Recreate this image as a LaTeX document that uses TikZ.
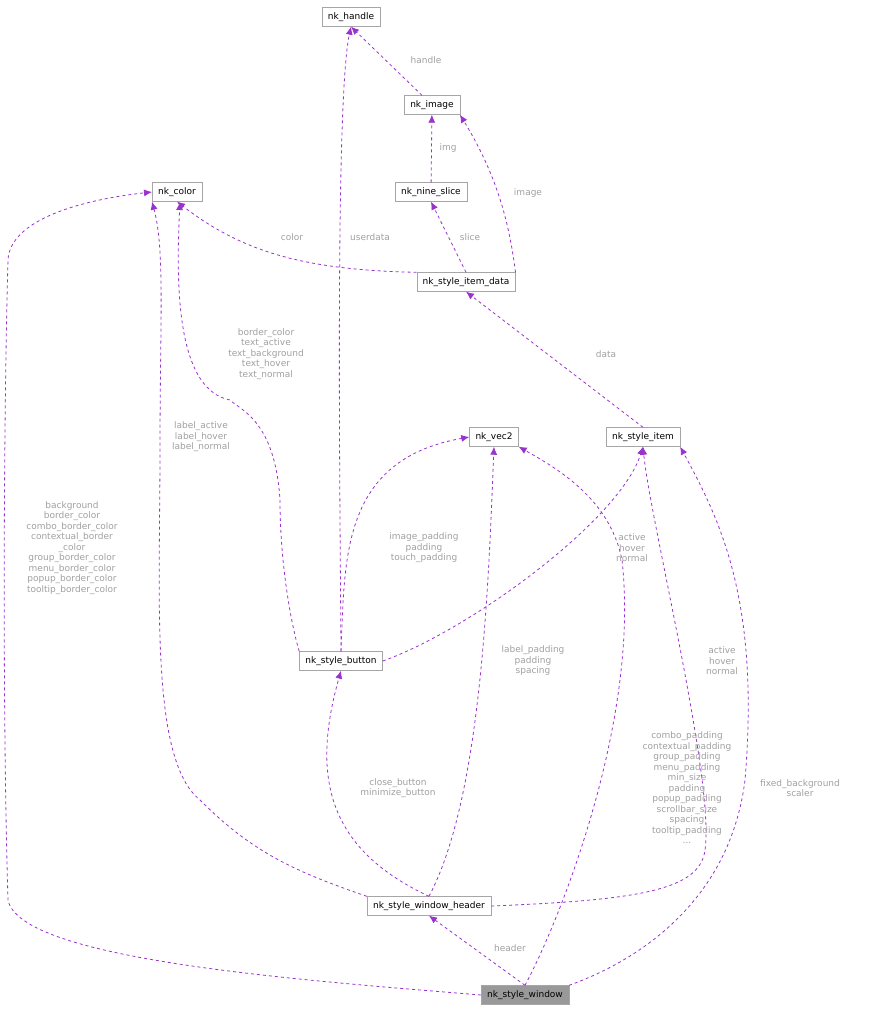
\documentclass[tikz,border=0pt]{standalone}
\usepackage{fontspec}
\setmainfont{DejaVu Sans}
\usetikzlibrary{arrows.meta}
\definecolor{edge}{HTML}{9A32CD}
\definecolor{lbl}{HTML}{A0A0A0}
\tikzset{
  box/.style={draw=black!35, fill=white, minimum height=19pt, inner xsep=6pt, font=\fontsize{9}{10}\selectfont, anchor=center},
  e/.style={draw=edge, dashed, -{Latex[length=8pt,width=7pt]}, thick},
  lab/.style={text=lbl, font=\fontsize{9}{10.5}\selectfont, align=center}
}
\begin{document}
\begin{tikzpicture}[x=1pt,y=-1pt]
\useasboundingbox (0,0) rectangle (877,1012);
\node[box] (handle) at (351,17) {nk\_handle};
\node[box] (image) at (432,105) {nk\_image};
\node[box] (nine) at (431,192) {nk\_nine\_slice};
\node[box] (color) at (177,192) {nk\_color};
\node[box] (sid) at (466,282) {nk\_style\_item\_data};
\node[box] (vec) at (494,437) {nk\_vec2};
\node[box] (item) at (643,437) {nk\_style\_item};
\node[box] (button) at (341,661) {nk\_style\_button};
\node[box] (header) at (429,906) {nk\_style\_window\_header};
\node[box, fill=black!40] (win) at (525,995) {nk\_style\_window};

\draw[e] (image) -- (handle.south);
\draw[e] (nine) -- (image);
\draw[e] (sid.north) -- (nine.south);
\draw[e] (sid.north east) .. controls (510,230) and (500,180) .. (image.south east);
\draw[e] (sid.north west) .. controls (300,270) and (240,250) .. (color.south);
\draw[e] (item.north) -- (sid.south);
\draw[e] (button.north) .. controls (340,500) and (335,100) .. (handle.south);
\draw[e] (button.north west) .. controls (290,620) and (280,560) .. (280,500) .. controls (275,420) and (240,410) .. (230,400) .. controls (180,390) and (175,300) .. (180,202);
\draw[e] (button.north) .. controls (345,560) and (340,460) .. (vec.west);
\draw[e] (button.east) .. controls (470,630) and (620,520) .. (item.south);
\draw[e] (header.north west) .. controls (290,870) and (250,850) .. (200,800) .. controls (150,760) and (160,600) .. (160,450) .. controls (160,320) and (165,250) .. (color.south west);
\draw[e] (header.north) .. controls (330,850) and (310,780) .. (button.south);
\draw[e] (header.north) .. controls (480,800) and (488,600) .. (vec.south);
\draw[e] (win.north) -- (header.south);
\draw[e] (win.north) .. controls (560,920) and (640,720) .. (622,560) .. controls (610,500) and (560,470) .. (vec.south east);
\draw[e] (header.east) .. controls (640,900) and (700,890) .. (705,850) .. controls (715,780) and (650,520) .. (item.south);
\draw[e] (win.north east) .. controls (640,960) and (730,900) .. (745,780) .. controls (760,600) and (720,520) .. (item.south east);
\draw[e] (win.west) .. controls (300,980) and (20,960) .. (8,900) .. controls (2,700) and (4,400) .. (8,260) .. controls (10,220) and (80,200) .. (color.west);

\node[lab] at (426,60) {handle};
\node[lab] at (448,148) {img};
\node[lab] at (470,237) {slice};
\node[lab] at (528,193) {image};
\node[lab] at (292,237) {color};
\node[lab] at (370,237) {userdata};
\node[lab] at (606,354) {data};
\node[lab] at (266,354) {border\_color\\text\_active\\text\_background\\text\_hover\\text\_normal};
\node[lab] at (201,437) {label\_active\\label\_hover\\label\_normal};
\node[lab] at (72,548) {background\\border\_color\\combo\_border\_color\\contextual\_border\\\_color\\group\_border\_color\\menu\_border\_color\\popup\_border\_color\\tooltip\_border\_color};
\node[lab] at (424,548) {image\_padding\\padding\\touch\_padding};
\node[lab] at (632,548) {active\\hover\\normal};
\node[lab] at (533,661) {label\_padding\\padding\\spacing};
\node[lab] at (722,661) {active\\hover\\normal};
\node[lab] at (398,788) {close\_button\\minimize\_button};
\node[lab] at (687,788) {combo\_padding\\contextual\_padding\\group\_padding\\menu\_padding\\min\_size\\padding\\popup\_padding\\scrollbar\_size\\spacing\\tooltip\_padding\\...};
\node[lab] at (800,788) {fixed\_background\\scaler};
\node[lab] at (510,948) {header};
\end{tikzpicture}
\end{document}
